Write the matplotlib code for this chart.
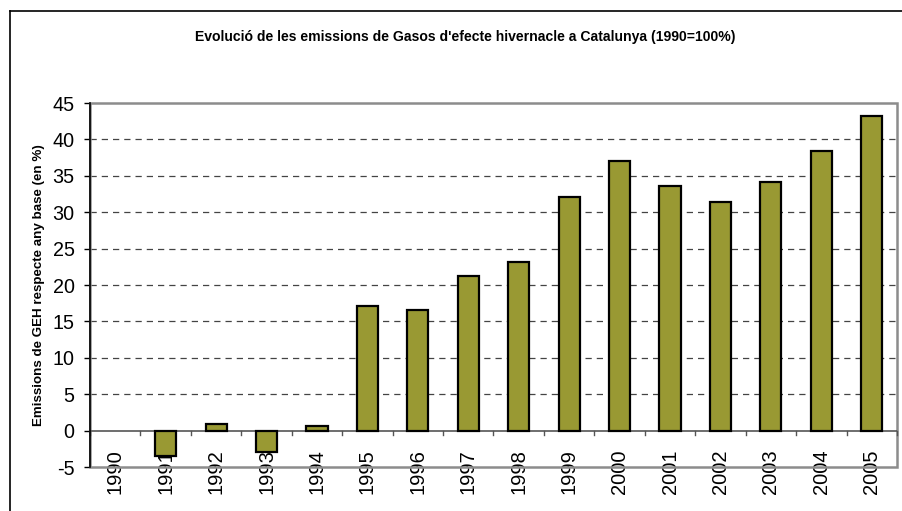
#Evolution of greenhouse gas emissions in Catalonia, 1990 = 100%.

import matplotlib
matplotlib.use("Agg")
import matplotlib.pyplot as plt
from matplotlib.lines import Line2D
from matplotlib.patches import Rectangle
import numpy as np


years = ["1990", "1991", "1992", "1993", "1994", "1995", "1996", "1997",
         "1998", "1999", "2000", "2001", "2002", "2003", "2004", "2005"]
emissions = [0.0, -3.5, 0.9, -3.0, 0.7, 17.1, 16.6, 21.2,
             23.2, 32.1, 37.1, 33.6, 31.4, 34.2, 38.4, 43.2]
y_ticks = [-5, 0, 5, 10, 15, 20, 25, 30, 35, 40, 45]

BAR_COLOR = "#999933"

plt.rcParams["font.family"] = ["Liberation Sans", "DejaVu Sans"]

fig = plt.figure(figsize=(9.03, 5.11), dpi=100)
ax = fig.add_axes([90 / 903, 44 / 511, 807 / 903, 364 / 511])

x = np.arange(len(years))
bars = ax.bar(x, emissions, width=0.42, color=BAR_COLOR, edgecolor="black",
              linewidth=1.6, zorder=3)
# a zero-height bar draws nothing in the original
for bar, v in zip(bars, emissions):
    if v == 0:
        bar.set_linewidth(0)

ax.set_xlim(-0.5, len(years) - 0.5)
ax.set_ylim(-5, 45)

# dashed gridlines
for v in y_ticks[2:-1]:
    ax.axhline(v, color="#444444", lw=0.9, ls=(0, (5, 4)), zorder=1)

# plot area frame: gray top/right/bottom, black left
ax.add_patch(Rectangle((0, 0), 1, 1, transform=ax.transAxes, fill=False,
                       edgecolor="#8c8c8c", lw=1.8, zorder=2, clip_on=False))
for side in ["top", "right", "bottom"]:
    ax.spines[side].set_visible(False)
ax.spines["left"].set_color("black")
ax.spines["left"].set_linewidth(1.2)
ax.spines["left"].set_zorder(4)

# zero line acts as the category axis, with ticks between categories
ax.axhline(0, color="#555555", lw=1.2, zorder=2)
for xb in np.arange(-0.5, len(years)):
    ax.plot([xb, xb], [0, -0.62], color="#555555", lw=1, zorder=2, clip_on=False)

ax.set_xticks([])
for xi, label in zip(x, years):
    ax.annotate(label, xy=(xi, 0), xytext=(0, -13.5), textcoords="offset points",
                rotation=90, ha="center", va="top", fontsize=14.5, zorder=0)

ax.set_yticks(y_ticks)
ax.set_yticklabels([str(v) for v in y_ticks], fontsize=14.2)
ax.tick_params(axis="y", length=4.5, width=1, pad=6.5, color="black")

ax.set_ylabel("Emissions de GEH respecte any base (en %)", fontsize=9.6,
              fontweight="bold")
ax.yaxis.set_label_coords(-45 / 807, 0.5)

fig.text(465 / 903, 1 - 37 / 511,
         "Evolució de les emissions de Gasos d'efecte hivernacle a Catalunya (1990=100%)",
         ha="center", va="center", fontsize=10.1, fontweight="bold")

# outer chart frame
fig.add_artist(Line2D([10 / 903, 1.01], [1 - 11 / 511, 1 - 11 / 511],
                      transform=fig.transFigure, color="black", lw=1.2))
fig.add_artist(Line2D([10 / 903, 10 / 903], [-0.01, 1 - 11 / 511],
                      transform=fig.transFigure, color="black", lw=1.2))

fig.savefig("out.png", dpi=100)
